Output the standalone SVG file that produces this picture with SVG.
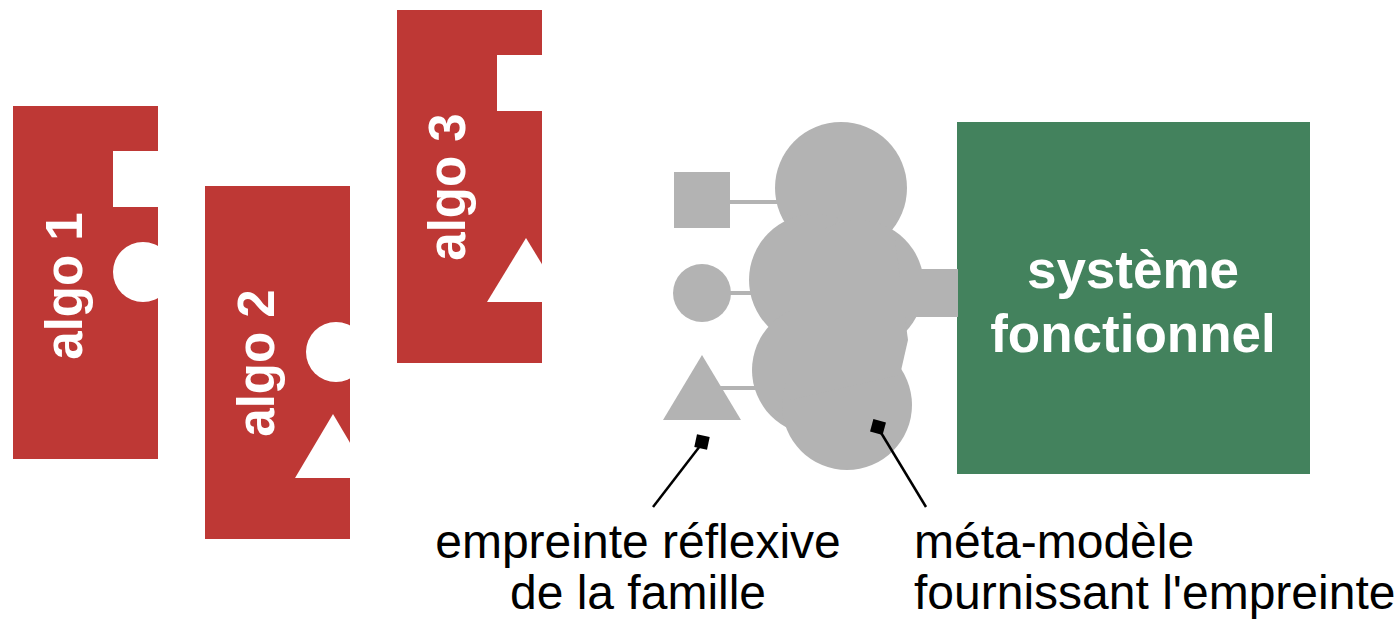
<svg xmlns="http://www.w3.org/2000/svg" width="1397" height="621" viewBox="0 0 1397 621">
<style>
.red{fill:#be3835}
.hole{fill:#ffffff}
.gray{fill:#b3b3b3}
.glink{stroke:#b3b3b3;stroke-width:4}
.lbl{font-family:"Liberation Sans",Arial,sans-serif;font-weight:bold;fill:#ffffff;text-anchor:middle}
.note{font-family:"Liberation Sans",Arial,sans-serif;font-size:48px;fill:#000000}
.lead{stroke:#000000;stroke-width:2.5;fill:none}
</style>
<defs>
<clipPath id="c1"><rect x="13" y="106" width="145" height="353"/></clipPath>
<clipPath id="c2"><rect x="205" y="186" width="145" height="353"/></clipPath>
<clipPath id="c3"><rect x="397" y="10" width="145" height="353"/></clipPath>
</defs>
<rect width="1397" height="621" fill="#ffffff"/>
<g id="algo1">
<rect class="red" x="13" y="106" width="145" height="353"/>
<g clip-path="url(#c1)">
<rect class="hole" x="113" y="151" width="50" height="56"/>
<circle class="hole" cx="143" cy="272" r="30"/>
</g>
<text class="lbl" font-size="51" transform="translate(82,286) rotate(-90)">algo 1</text>
</g>
<g id="algo2">
<rect class="red" x="205" y="186" width="145" height="353"/>
<g clip-path="url(#c2)">
<circle class="hole" cx="336" cy="352" r="30"/>
<polygon class="hole" points="333,414 295,478 371,478"/>
</g>
<text class="lbl" font-size="51" transform="translate(274,363) rotate(-90)">algo 2</text>
</g>
<g id="algo3">
<rect class="red" x="397" y="10" width="145" height="353"/>
<g clip-path="url(#c3)">
<rect class="hole" x="497" y="55" width="50" height="56"/>
<polygon class="hole" points="526,238 487,302 565,302"/>
</g>
<text class="lbl" font-size="51" transform="translate(465,187) rotate(-90)">algo 3</text>
</g>
<g id="family">
<rect class="gray" x="674" y="172" width="56" height="56"/>
<circle class="gray" cx="702" cy="293" r="29"/>
<polygon class="gray" points="702,355 663,420 741,420"/>
</g>
<g id="metamodele">
<circle class="gray" cx="841" cy="188" r="66"/>
<circle class="gray" cx="815" cy="280" r="66"/>
<circle class="gray" cx="858" cy="286" r="66"/>
<circle class="gray" cx="817" cy="370" r="65"/>
<circle class="gray" cx="847" cy="405" r="65"/>
<polygon class="gray" points="790,240 895,240 908,340 900,375 790,400"/>
</g>
<g id="systeme">
<rect x="957" y="122" width="353" height="352" fill="#43825d"/>
<text class="lbl" font-size="53" x="1133" y="288">système</text>
<text class="lbl" font-size="53" x="1133" y="352">fonctionnel</text>
</g>
<g id="connectors">
<line class="glink" x1="728" y1="202" x2="790" y2="202"/>
<line class="glink" x1="728" y1="293" x2="760" y2="293"/>
<line class="glink" x1="720" y1="388" x2="765" y2="388"/>
<rect class="gray" x="900" y="269" width="58" height="48"/>
<rect x="695.5" y="435.5" width="13" height="13" fill="#000" transform="rotate(12 702 442)"/>
<line class="lead" x1="700" y1="446" x2="653" y2="507"/>
<rect x="871.5" y="420.5" width="13" height="13" fill="#000" transform="rotate(15 878 427)"/>
<line class="lead" x1="880" y1="431" x2="926" y2="507"/>
</g>
<g id="labels">
<text class="note" x="638" y="558" text-anchor="middle">empreinte réflexive</text>
<text class="note" x="638" y="609" text-anchor="middle">de la famille</text>
<text class="note" x="914" y="558">méta-modèle</text>
<text class="note" x="914" y="609">fournissant l'empreinte</text>
</g>
</svg>
